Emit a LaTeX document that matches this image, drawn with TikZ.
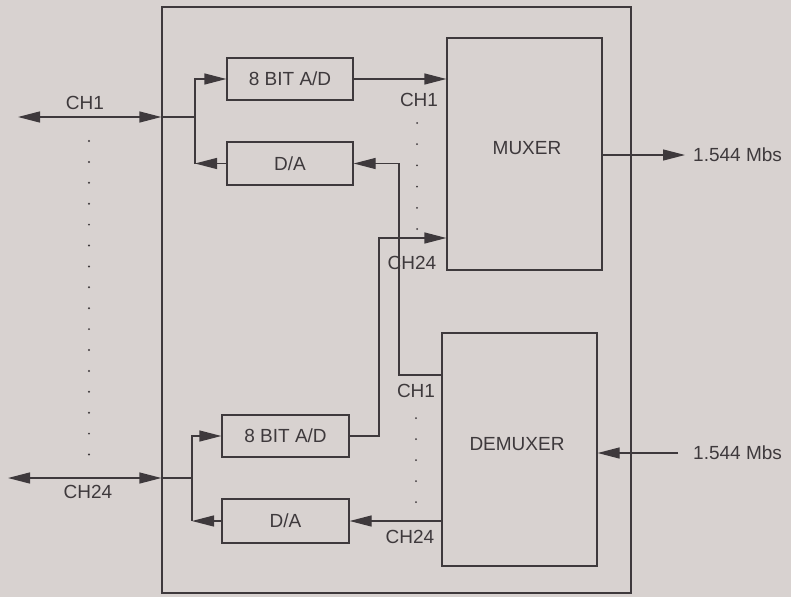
\documentclass[tikz,border=0pt]{standalone}
\usepackage{fontspec}
\setmainfont{Liberation Sans}
\usetikzlibrary{arrows.meta}
\definecolor{bg}{RGB}{216,210,208}
\definecolor{ink}{RGB}{62,57,60}
\begin{document}
\begin{tikzpicture}[x=1pt,y=-1pt,
  every node/.style={font=\fontsize{19}{22}\selectfont, text=ink},
  box/.style={draw=ink, line width=1.3pt, inner sep=0pt},
  wire/.style={draw=ink, line width=1.3pt},
  arr/.style={wire, -{Triangle[length=22pt,width=11pt]}},
  darr/.style={wire, {Triangle[length=22pt,width=11pt]}-{Triangle[length=22pt,width=11pt]}},
  lbl/.style={inner sep=0pt}]
\fill[bg] (0,0) rectangle (791,597);
\useasboundingbox (0,0) rectangle (791,597);

% outer frame
\node[box, minimum width=469pt, minimum height=586pt] (outer) at (396.5,300) {};

% blocks
\node[box, minimum width=126pt, minimum height=42pt] (ad1) at (290,79) {8 BIT A/D};
\node[box, minimum width=126pt, minimum height=43pt] (da1) at (290,163.5) {D/A};
\node[box, minimum width=127pt, minimum height=42pt] (ad2) at (285.5,436) {8 BIT A/D};
\node[box, minimum width=127pt, minimum height=44pt] (da2) at (285.5,521) {D/A};
\node[box, minimum width=155pt, minimum height=232pt] (mux) at (524.5,154) {};
\node[lbl] at (527,148) {MUXER};
\node[box, minimum width=155pt, minimum height=233pt] (demux) at (519.5,449.5) {};
\node[lbl] at (517,444) {DEMUXER};

% coordinates
\coordinate (l1) at (18,117);
\coordinate (b1) at (195,117);
\coordinate (l2) at (8,478);
\coordinate (b2) at (192,478);
\coordinate (c1) at (399,375);
\coordinate (c2) at (379,238);
\coordinate (outR) at (685,155);
\coordinate (inR) at (678,453);
\coordinate (outT) at (693,155);
\coordinate (inT) at (693,453);

% CH1 side
\draw[darr] (l1) -- (outer.west |- l1);
\draw[wire] (outer.west |- l1) -- (b1);
\draw[arr] (b1) |- (ad1.west);
\draw[wire] (b1) -- (b1 |- da1.west);
\draw[arr] (da1.west) -- (b1 |- da1.west);

% CH24 side
\draw[darr] (l2) -- (outer.west |- l2);
\draw[wire] (outer.west |- l2) -- (b2);
\draw[arr] (b2) |- (ad2.west);
\draw[wire] (b2) -- (b2 |- da2.west);
\draw[arr] (da2.west) -- (b2 |- da2.west);

% to/from mux, demux
\draw[arr] (ad1.east) -- (mux.west |- ad1.east);
\draw[arr] (ad2.east) -| (c2) -- (mux.west |- c2);
\draw[arr] (demux.west |- c1) -- (c1) |- (da1.east);
\draw[arr] (demux.west |- da2.east) -- (da2.east);

% external lines
\draw[arr] (mux.east |- outR) -- (outR);
\draw[arr] (inR) -- (demux.east |- inR);
\node[lbl, anchor=west] at (outT) {1.544 Mbs};
\node[lbl, anchor=west] at (inT) {1.544 Mbs};

% labels
\node[lbl] at (85,103) {CH1};
\node[lbl] at (88,492) {CH24};
\node[lbl] at (419,100) {CH1};
\node[lbl] at (412,263) {CH24};
\node[lbl] at (416,391) {CH1};
\node[lbl] at (410,537) {CH24};

% dots
\foreach \i in {0,...,15} \fill[ink] (89,141+\i*20.9) circle (1.1pt);
\foreach \i in {0,...,5} \fill[ink] (417,123+\i*21.2) circle (1pt);
\foreach \i in {0,...,4} \fill[ink] (416,418+\i*21) circle (1pt);
\end{tikzpicture}
\end{document}
